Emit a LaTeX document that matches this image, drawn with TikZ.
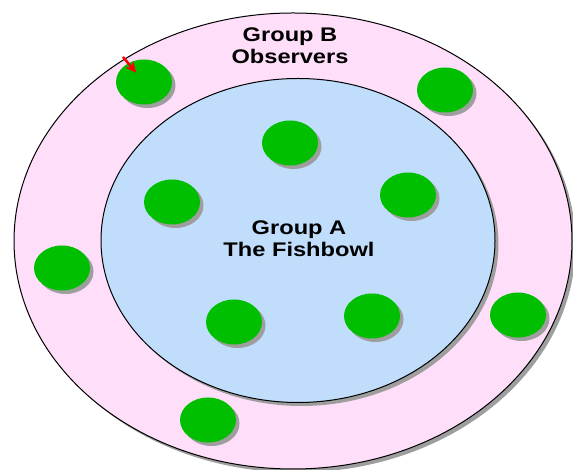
\documentclass[tikz,border=0pt]{standalone}
\usepackage{fontspec}
\setmainfont{Liberation Sans}
\newfontfamily\grpfont[FakeStretch=1.2]{Liberation Sans}
\usepackage{xcolor}
\usepackage{tikz}
\usetikzlibrary{arrows.meta,positioning,shapes.geometric,shadows}

\definecolor{ringpink}{RGB}{255,222,250}
\definecolor{bowlblue}{RGB}{192,222,252}
\definecolor{seatgreen}{RGB}{0,190,0}

\begin{document}
\begin{tikzpicture}[
    x=1pt, y=1pt,
    shade/.style={drop shadow={shadow xshift=3.5pt, shadow yshift=-3.5pt, fill=black!38, opacity=1}},
    ring/.style={ellipse, draw=black, line width=1pt, fill=ringpink, shade, minimum width=558pt, minimum height=456pt, inner sep=0pt},
    bowl/.style={ellipse, draw=black, line width=1pt, fill=bowlblue, shade, minimum width=394pt, minimum height=324pt, inner sep=0pt},
    member/.style={ellipse, fill=seatgreen, shade, minimum width=56pt, minimum height=45pt, inner sep=0pt},
    label/.style={align=center, font=\grpfont\bfseries\fontsize{19.7}{22}\selectfont},
    pointer/.style={-{Stealth[length=11pt, width=10pt]}, red, line width=2.5pt, shorten >=12pt}
]
    \useasboundingbox (0,0) rectangle (573,470);

    \node [ring] (groupB) at (293,229) {};
    \node [bowl] (groupA) at (298,229.5) {};

    \node [label] (obsText) at (290,424) {Group B\\Observers};
    \node [label] (fishText) at (299,231) {Group A\\The Fishbowl};

    % observers, outer ring
    \node [member] (obsA) at (144,388) {};
    \node [member] (obsB) at (445,380) {};
    \node [member] (obsC) at (62,202) {};
    \node [member] (obsD) at (518,155) {};
    \node [member] (obsE) at (208,50) {};

    % fishbowl members
    \node [member] (fishA) at (290,327) {};
    \node [member] (fishB) at (172,268) {};
    \node [member] (fishC) at (408,275) {};
    \node [member] (fishD) at (234,148) {};
    \node [member] (fishE) at (372,154) {};

    \coordinate (cursor) at (123,413);
    \draw [pointer] (cursor) -- (obsA.center);
\end{tikzpicture}
\end{document}
